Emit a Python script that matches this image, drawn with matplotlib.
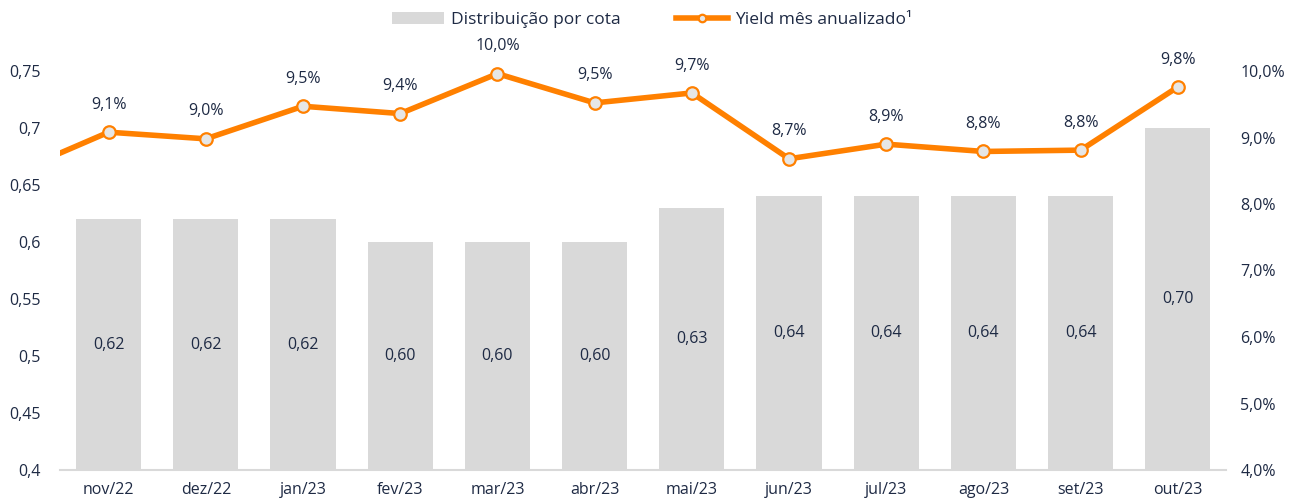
import numpy as np
import matplotlib.pyplot as plt
from matplotlib.ticker import FuncFormatter

meses = ['nov/22', 'dez/22', 'jan/23', 'fev/23', 'mar/23', 'abr/23',
         'mai/23', 'jun/23', 'jul/23', 'ago/23', 'set/23', 'out/23']
distribuicao = [0.62, 0.62, 0.62, 0.60, 0.60, 0.60, 0.63, 0.64, 0.64, 0.64, 0.64, 0.70]
yield_mes = [9.08, 8.98, 9.47, 9.36, 9.96, 9.52, 9.67, 8.68, 8.90, 8.79, 8.81, 9.76]
yield_anterior = 8.45  # out/22, fora do recorte

cinza = '#d9d9d9'
laranja = '#ff8000'
texto = '#1e2a44'

plt.rcParams['font.family'] = ['Open Sans', 'DejaVu Sans']

fig = plt.figure(figsize=(12.91, 5.0), dpi=100)
ax = fig.add_axes([0.0465, 0.06, 0.9035, 0.798])
ax2 = ax.twinx()

x = np.arange(len(meses))
ax.bar(x, distribuicao, width=0.67, color=cinza, label='Distribuição por cota', zorder=1)
for xi, v in zip(x, distribuicao):
    ax.text(xi, 0.4 + (v - 0.4) / 2, f'{v:.2f}'.replace('.', ','), ha='center', va='center',
            fontsize=11.5, color=texto)

ax.set_xlim(-0.5, len(meses) - 0.5)
ax.set_ylim(0.4, 0.75)
ax.set_yticks([0.4, 0.45, 0.5, 0.55, 0.6, 0.65, 0.7, 0.75])
ax.yaxis.set_major_formatter(FuncFormatter(lambda v, p: f'{v:.2f}'.rstrip('0').replace('.', ',')))
ax.set_xticks(x)
ax.set_xticklabels(meses)

ax2.set_ylim(4, 10)
ax2.set_yticks(np.arange(4, 11, 1))
ax2.yaxis.set_major_formatter(FuncFormatter(lambda v, p: f'{v:.1f}%'.replace('.', ',')))

# segmento vindo do mes anterior (cortado pela borda)
ax2.plot([-1, 0], [yield_anterior, yield_mes[0]], color=laranja, lw=4, zorder=3)
ax2.plot(x, yield_mes, color=laranja, lw=4, marker='o', markersize=9,
         markerfacecolor='#e6e6e6', markeredgecolor=laranja, markeredgewidth=1.6,
         label='Yield mês anualizado¹', clip_on=False, zorder=4)
for xi, v in zip(x, yield_mes):
    ax2.annotate(f'{v:.1f}%'.replace('.', ','), (xi, v), xytext=(0, 14), textcoords='offset points',
                 ha='center', va='bottom', fontsize=11.5, color=texto)

for a in (ax, ax2):
    for s in ('top', 'left', 'right'):
        a.spines[s].set_visible(False)
    a.tick_params(length=0, labelsize=11.5, labelcolor=texto)
ax.spines['bottom'].set_color(cinza)
ax.spines['bottom'].set_linewidth(1.5)
ax2.spines['bottom'].set_visible(False)
ax.tick_params(axis='x', pad=9)
ax.tick_params(axis='y', pad=14)
ax2.tick_params(axis='y', pad=10)

h1, l1 = ax.get_legend_handles_labels()
h2, l2 = ax2.get_legend_handles_labels()
leg = fig.legend(h1 + h2, l1 + l2, loc='center', bbox_to_anchor=(0.505, 0.96), ncol=2,
                 frameon=False, fontsize=12.5, handlelength=3.0, columnspacing=3.2,
                 markerscale=0.6, handletextpad=0.4)
for t in leg.get_texts():
    t.set_color(texto)

fig.savefig('out.png', dpi=100)
